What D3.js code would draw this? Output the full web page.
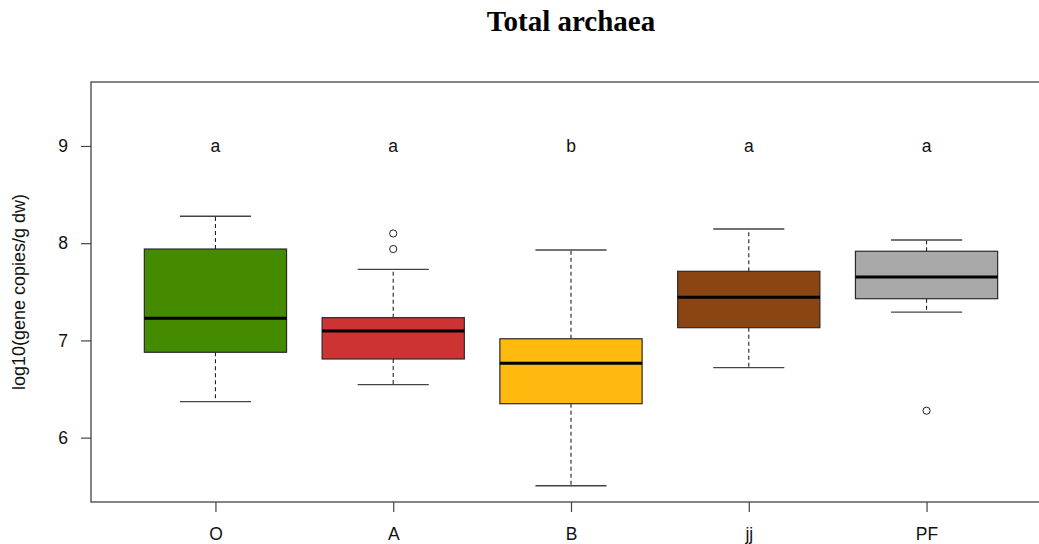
<!DOCTYPE html>
<html>
<head>
<meta charset="utf-8">
<script src="https://cdn.jsdelivr.net/npm/d3@7"></script>
<style>
  html, body { margin: 0; padding: 0; background: #fff; }
  svg { display: block; }
</style>
</head>
<body>
<svg id="chart" width="1039" height="544"></svg>
<script>
// Boxplot summary per site group (log10 gene copies / g dry weight)
const categories   = ["O", "A", "B", "jj", "PF"];
const whiskerLow   = [6.37, 6.545, 5.505, 6.72, 7.29];
const q1           = [6.878, 6.809, 6.349, 7.131, 7.429];
const medians      = [7.227, 7.097, 6.764, 7.443, 7.652];
const q3           = [7.94, 7.234, 7.017, 7.711, 7.917];
const whiskerHigh  = [8.277, 7.731, 7.93, 8.146, 8.033];
const outliers     = [[], [8.10, 7.94], [], [], [6.277]];
const groupLetters = ["a", "a", "b", "a", "a"];
const fills        = ["#458B00", "#CD3333", "#FFB90F", "#8B4513", "#A9A9A9"];
const yTicks       = [6, 7, 8, 9];
const letterLevel  = 9;

const svg = d3.select("#chart");
const plot = { left: 91, right: 1051, top: 82, bottom: 502 };
const sans = "Liberation Sans, Arial, sans-serif";
const labelSize = 17.5;

// Positions 1..n with R-style padding (0.5 each side, plus 4%)
const x = d3.scaleLinear().domain([0.3, 5.7]).range([plot.left, plot.right]);
const y = d3.scaleLinear().domain([5.338, 9.658]).range([plot.bottom, plot.top]);

const unit = x(2) - x(1);
const boxHalf = unit * 0.8 / 2;
const capHalf = boxHalf / 2;

const data = categories.map((c, i) => ({
  cat: c, pos: i + 1,
  lo: whiskerLow[i], q1: q1[i], med: medians[i], q3: q3[i], hi: whiskerHigh[i],
  out: outliers[i], letter: groupLetters[i], fill: fills[i]
}));

const g = svg.append("g");

// Whiskers (dashed stems, solid caps)
const wh = g.selectAll("g.box").data(data).join("g").attr("class", "box");
wh.append("line")
  .attr("x1", d => x(d.pos)).attr("x2", d => x(d.pos))
  .attr("y1", d => y(d.q3)).attr("y2", d => y(d.hi))
  .attr("stroke", "#222").attr("stroke-width", 1.1).attr("stroke-dasharray", "4,3");
wh.append("line")
  .attr("x1", d => x(d.pos)).attr("x2", d => x(d.pos))
  .attr("y1", d => y(d.q1)).attr("y2", d => y(d.lo))
  .attr("stroke", "#222").attr("stroke-width", 1.1).attr("stroke-dasharray", "4,3");
wh.append("line")
  .attr("x1", d => x(d.pos) - capHalf).attr("x2", d => x(d.pos) + capHalf)
  .attr("y1", d => y(d.hi)).attr("y2", d => y(d.hi))
  .attr("stroke", "#444").attr("stroke-width", 1.3);
wh.append("line")
  .attr("x1", d => x(d.pos) - capHalf).attr("x2", d => x(d.pos) + capHalf)
  .attr("y1", d => y(d.lo)).attr("y2", d => y(d.lo))
  .attr("stroke", "#444").attr("stroke-width", 1.3);

// Boxes
wh.append("rect")
  .attr("x", d => x(d.pos) - boxHalf)
  .attr("width", boxHalf * 2)
  .attr("y", d => y(d.q3))
  .attr("height", d => y(d.q1) - y(d.q3))
  .attr("fill", d => d.fill)
  .attr("stroke", "#2a2a2a").attr("stroke-width", 1.2);

// Medians
wh.append("line")
  .attr("x1", d => x(d.pos) - boxHalf).attr("x2", d => x(d.pos) + boxHalf)
  .attr("y1", d => y(d.med)).attr("y2", d => y(d.med))
  .attr("stroke", "#000").attr("stroke-width", 3);

// Outliers
wh.selectAll("circle").data(d => d.out.map(v => ({ pos: d.pos, v })))
  .join("circle")
  .attr("cx", d => x(d.pos)).attr("cy", d => y(d.v)).attr("r", 3.6)
  .attr("fill", "#fff").attr("stroke", "#222").attr("stroke-width", 1);

// Significance letters
g.selectAll("text.letter").data(data).join("text")
  .attr("class", "letter")
  .attr("x", d => x(d.pos)).attr("y", y(letterLevel))
  .attr("dy", "0.35em")
  .attr("text-anchor", "middle")
  .attr("font-family", sans)
  .attr("font-size", labelSize).attr("fill", "#111")
  .text(d => d.letter);

// Axes
const yAxis = d3.axisLeft(y).tickValues(yTicks).tickFormat(d3.format("d")).tickSize(10).tickPadding(13);
const xAxis = d3.axisBottom(x).tickValues(data.map(d => d.pos))
  .tickFormat(p => categories[p - 1]).tickSize(10).tickPadding(16);

const ya = svg.append("g").attr("transform", `translate(${plot.left},0)`).call(yAxis);
const xa = svg.append("g").attr("transform", `translate(0,${plot.bottom})`).call(xAxis);
[ya, xa].forEach(a => {
  a.select(".domain").remove();
  a.selectAll(".tick line").attr("stroke", "#444").attr("stroke-width", 1.2);
  a.selectAll(".tick text")
    .attr("font-family", sans)
    .attr("font-size", labelSize).attr("fill", "#111");
});

// Plot frame
svg.append("rect")
  .attr("x", plot.left).attr("y", plot.top)
  .attr("width", plot.right - plot.left).attr("height", plot.bottom - plot.top)
  .attr("fill", "none").attr("stroke", "#444").attr("stroke-width", 1.3);

// Y axis title
svg.append("text")
  .attr("transform", `translate(25,${(plot.top + plot.bottom) / 2}) rotate(-90)`)
  .attr("text-anchor", "middle")
  .attr("font-family", sans)
  .attr("font-size", 18).attr("fill", "#111")
  .text("log10(gene copies/g dw)");

// Title
svg.append("text")
  .attr("x", (plot.left + plot.right) / 2).attr("y", 31)
  .attr("text-anchor", "middle")
  .attr("font-family", "Liberation Serif, Times New Roman, serif")
  .attr("font-weight", "bold").attr("font-size", 29).attr("fill", "#000")
  .text("Total archaea");
</script>
</body>
</html>
